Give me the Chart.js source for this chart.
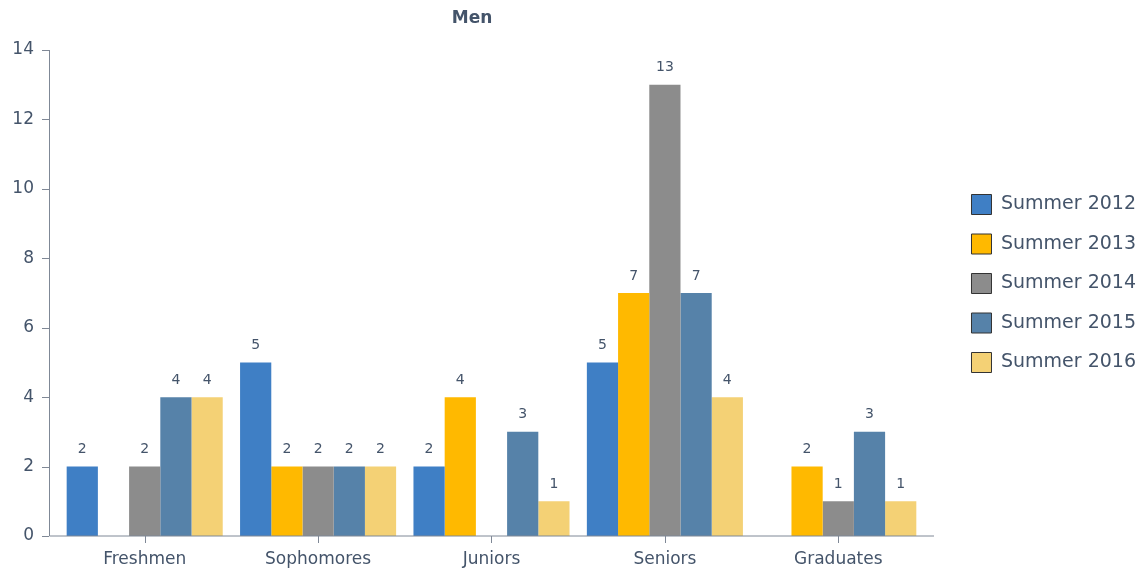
<!DOCTYPE html>
<html>
<head>
<meta charset="utf-8">
<script src="https://cdn.jsdelivr.net/npm/chart.js@4.4.0/dist/chart.umd.min.js"></script>
<style>
  html, body { margin: 0; padding: 0; background: #fff; }
  #wrap { width: 1146px; height: 571px; }
</style>
</head>
<body>
<div id="wrap"><canvas id="c" width="1146" height="571"></canvas></div>
<script>
let categories = ["Freshmen", "Sophomores", "Juniors", "Seniors", "Graduates"];
let seriesNames = ["Summer 2012", "Summer 2013", "Summer 2014", "Summer 2015", "Summer 2016"];
let summer2012 = [2, 5, 2, 5, 0];
let summer2013 = [0, 2, 4, 7, 2];
let summer2014 = [2, 2, 0, 13, 1];
let summer2015 = [4, 2, 3, 7, 3];
let summer2016 = [4, 2, 1, 4, 1];
let colors = ["#3F7FC5", "#FFB900", "#8C8C8C", "#5682A9", "#F4D175"];
let yTicks = [0, 2, 4, 6, 8, 10, 12, 14];

const textColor = "#44546A";
const axisColor = "#7F8896";
const font = "DejaVu Sans, Verdana, sans-serif";

let values = [summer2012, summer2013, summer2014, summer2015, summer2016];

// axes, tick marks, value labels and title drawn by hand
const extras = {
    id: "extras",
    afterLayout(chart) {
        // push the legend back to the right edge and lift it a bit
        const lg = chart.legend;
        lg.left += 27; lg.right += 27;
        lg.top -= 27; lg.bottom -= 27;
    },
    afterDatasetsDraw(chart) {
        const ctx = chart.ctx;
        const area = chart.chartArea;
        const x = chart.scales.x;
        const y = chart.scales.y;
        const pad = 9;
        const left = area.left - pad;
        const bottom = y.getPixelForValue(0);

        ctx.save();
        ctx.strokeStyle = axisColor;
        ctx.lineWidth = 1;
        ctx.beginPath();
        ctx.moveTo(left + 0.5, y.getPixelForValue(14));
        ctx.lineTo(left + 0.5, bottom);
        ctx.lineTo(area.right + pad, bottom);
        yTicks.forEach(v => {
            let py = Math.round(y.getPixelForValue(v)) + 0.5;
            ctx.moveTo(left - 7, py);
            ctx.lineTo(left, py);
        });
        categories.forEach((c, i) => {
            let px = Math.round(x.getPixelForValue(i)) + 0.5;
            ctx.moveTo(px, bottom);
            ctx.lineTo(px, bottom + 7);
        });
        ctx.stroke();

        // value labels
        ctx.fillStyle = textColor;
        ctx.font = "14px " + font;
        ctx.textAlign = "center";
        ctx.textBaseline = "middle";
        chart.data.datasets.forEach((ds, di) => {
            const meta = chart.getDatasetMeta(di);
            meta.data.forEach((bar, i) => {
                if (!ds.data[i]) return;
                ctx.fillText(String(ds.data[i]), bar.x, bar.y - 17);
            });
        });

        // title
        ctx.font = "bold 17px " + font;
        ctx.fillText("Men", 472, 19);
        ctx.restore();
    }
};

new Chart(document.getElementById("c"), {
    type: "bar",
    data: {
        labels: categories,
        datasets: seriesNames.map((name, i) => ({
            label: name,
            data: values[i],
            backgroundColor: colors[i],
            borderWidth: 0,
            categoryPercentage: 0.9,
            barPercentage: 1.0
        }))
    },
    options: {
        responsive: false,
        animation: false,
        layout: { padding: { top: 50, right: 27, left: 0, bottom: 0 } },
        plugins: {
            tooltip: { enabled: false },
            legend: {
                position: "right",
                align: "center",
                labels: {
                    color: textColor,
                    font: { family: font, size: 19 },
                    boxWidth: 20,
                    boxHeight: 20,
                    padding: 19.5,
                    generateLabels(chart) {
                        return chart.data.datasets.map((ds, i) => ({
                            text: ds.label,
                            fillStyle: ds.backgroundColor,
                            strokeStyle: "#333333",
                            lineWidth: 1,
                            fontColor: textColor,
                            datasetIndex: i
                        }));
                    }
                }
            }
        },
        scales: {
            x: {
                grid: { display: false },
                border: { display: false },
                ticks: {
                    color: textColor,
                    font: { family: font, size: 17 },
                    padding: 5
                },
                afterFit(scale) { scale.height = 35; }
            },
            y: {
                min: 0,
                max: 14,
                grid: { display: false },
                border: { display: false },
                afterBuildTicks(scale) { scale.ticks = yTicks.map(v => ({ value: v })); },
                ticks: {
                    color: textColor,
                    font: { family: font, size: 17 },
                    padding: 16
                },
                afterFit(scale) { scale.width = 58; }
            }
        }
    },
    plugins: [extras]
});
</script>
</body>
</html>
